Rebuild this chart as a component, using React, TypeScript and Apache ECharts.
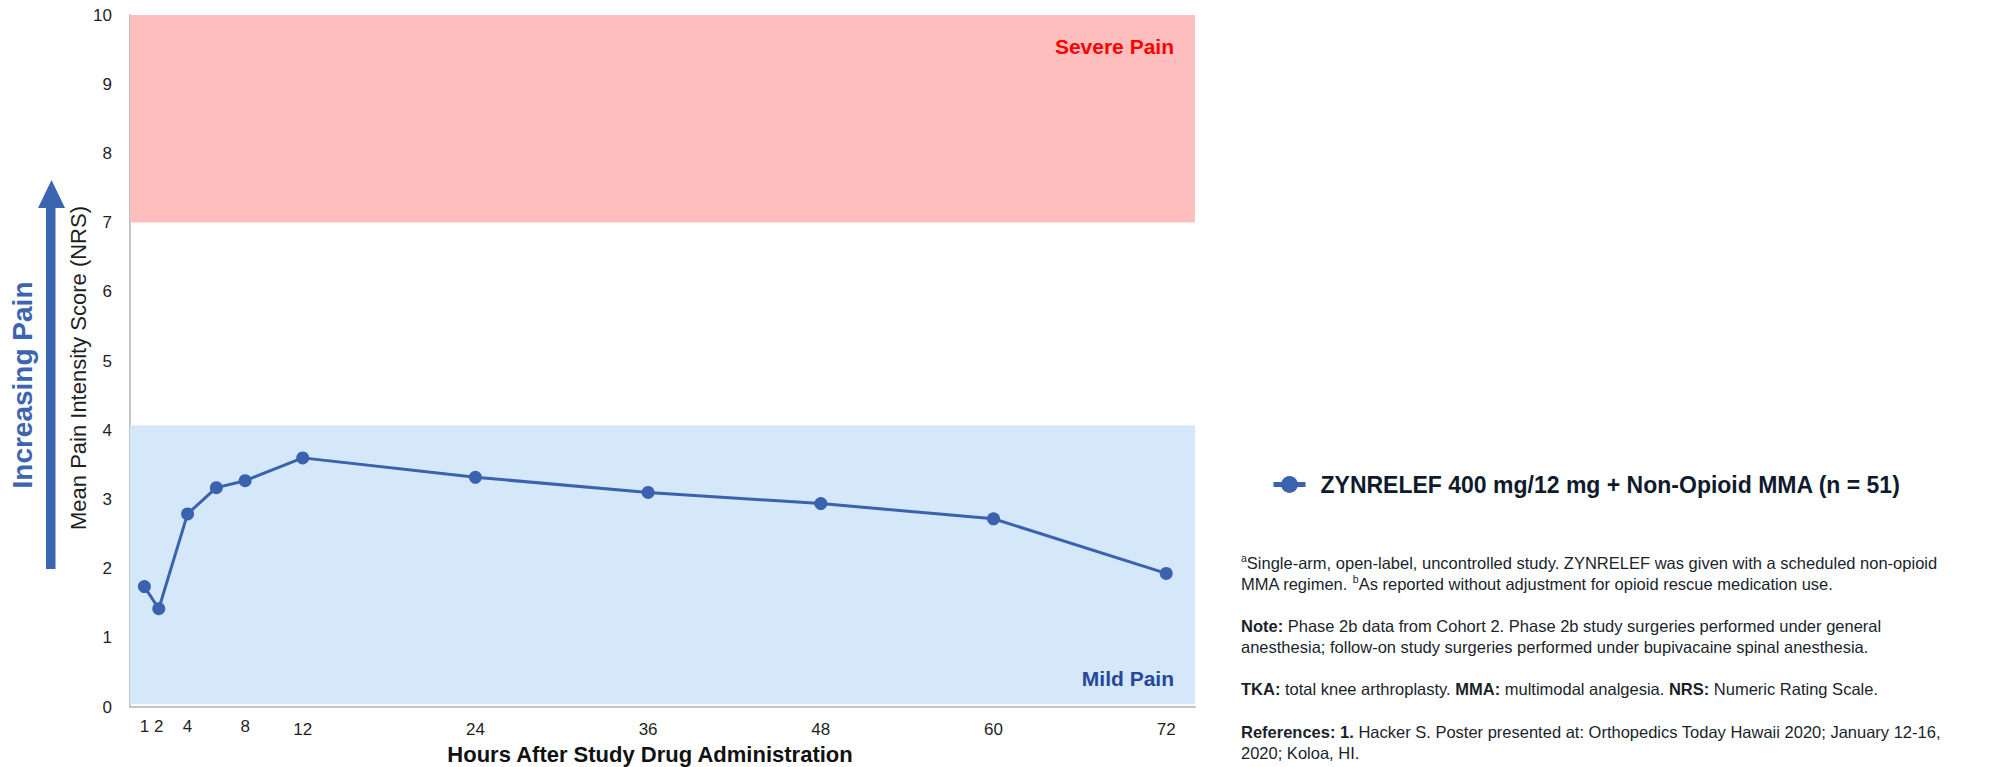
import React, { useEffect, useRef } from "react";
import * as echarts from "echarts";

const hours = [1, 2, 4, 6, 8, 12, 24, 36, 48, 60, 72];
const meanNrs = [1.74, 1.42, 2.79, 3.17, 3.27, 3.6, 3.32, 3.1, 2.94, 2.72, 1.93];
const xTickLabels = [1, 2, 4, 8, 12, 24, 36, 48, 60, 72];
const severeBand = [7, 10];
const mildBand = [0.04, 4.07];
const seriesName = "ZYNRELEF 400 mg/12 mg + Non-Opioid MMA (n = 51)";

const FONT = "'Liberation Sans', Arial, Helvetica, sans-serif";
const BLUE = "#3A62AE";
const TEXT = "#1A1F2B";

export default function App() {
  const ref = useRef<HTMLDivElement>(null);
  useEffect(() => {
    document.body.style.margin = "0";
    const chart = echarts.init(ref.current!, null, { renderer: "svg" });
    const data = hours.map((h, i) => [h, meanNrs[i]]);
    const footRich = {
      b: { fontFamily: FONT, fontSize: 16.5, fontWeight: "bold", fill: TEXT, lineHeight: 21 },
      sup: { fontFamily: FONT, fontSize: 10.5, fill: TEXT, lineHeight: 12, verticalAlign: "top" },
    };
    const footStyle = (text: string) => ({
      text,
      fontFamily: FONT,
      fontSize: 16.5,
      fill: TEXT,
      lineHeight: 21,
      rich: footRich,
    });
    chart.setOption({
      animation: false,
      textStyle: { fontFamily: FONT },
      grid: { left: 130, right: 816, top: 15, bottom: 60 },
      legend: {
        left: 1271,
        top: 473,
        padding: 0,
        itemWidth: 32,
        itemHeight: 21,
        lineStyle: { width: 5 },
        textStyle: {
          fontFamily: FONT,
          fontSize: 23,
          fontWeight: "bold",
          color: "#0F1B2D",
          padding: [0, 0, 0, 10],
        },
        data: [seriesName],
      },
      xAxis: {
        type: "value",
        min: 0,
        max: 74,
        interval: 1,
        axisLine: { show: true, lineStyle: { color: "#C4C4C4", width: 2 } },
        axisTick: { show: false },
        splitLine: { show: false },
        axisLabel: {
          margin: 11,
          formatter: (v: number) =>
            xTickLabels.includes(v) ? (v < 12 ? `{a|${v}}` : `{b|${v}}`) : "",
          rich: {
            a: { fontFamily: FONT, fontSize: 17, color: "#1F1F1F" },
            b: { fontFamily: FONT, fontSize: 17, color: "#1F1F1F", padding: [3, 0, 0, 0] },
          },
        },
      },
      yAxis: {
        type: "value",
        min: 0,
        max: 10,
        interval: 1,
        axisLine: { show: true, lineStyle: { color: "#C4C4C4", width: 2 } },
        axisTick: { show: false },
        splitLine: { show: false },
        axisLabel: { margin: 18, fontSize: 17, color: "#1F1F1F", fontFamily: FONT },
      },
      series: [
        {
          name: seriesName,
          type: "line",
          data,
          symbol: "circle",
          symbolSize: 13,
          lineStyle: { color: BLUE, width: 3 },
          itemStyle: { color: BLUE },
          z: 5,
          markArea: {
            silent: true,
            data: [
              [
                {
                  yAxis: severeBand[0],
                  itemStyle: { color: "#FFBEBE" },
                  label: {
                    show: true,
                    position: "insideTopRight",
                    distance: 0,
                    offset: [-21, 21],
                    formatter: "Severe Pain",
                    fontFamily: FONT,
                    fontSize: 21,
                    fontWeight: "bold",
                    color: "#FF0000",
                  },
                },
                { yAxis: severeBand[1] },
              ],
              [
                {
                  yAxis: mildBand[0],
                  itemStyle: { color: "#D5E8F9" },
                  label: {
                    show: true,
                    position: "insideBottomRight",
                    distance: 0,
                    offset: [-21, -15],
                    formatter: "Mild Pain",
                    fontFamily: FONT,
                    fontSize: 21,
                    fontWeight: "bold",
                    color: "#27479B",
                  },
                },
                { yAxis: mildBand[1] },
              ],
            ],
          },
        },
      ],
      graphic: [
        {
          type: "polygon",
          shape: {
            points: [
              [46, 569],
              [46, 208],
              [38, 208],
              [51.5, 180],
              [65, 208],
              [55.5, 208],
              [55.5, 569],
            ],
          },
          style: { fill: "#3B65B1" },
        },
        {
          type: "text",
          x: 22,
          y: 385,
          rotation: Math.PI / 2,
          style: {
            text: "Increasing Pain",
            fontFamily: FONT,
            fontSize: 28,
            fontWeight: "bold",
            fill: "#3B65B1",
            textAlign: "center",
            textVerticalAlign: "middle",
          },
        },
        {
          type: "text",
          x: 78,
          y: 368,
          rotation: Math.PI / 2,
          style: {
            text: "Mean Pain Intensity Score (NRS)",
            fontFamily: FONT,
            fontSize: 22,
            fill: "#1F1F1F",
            textAlign: "center",
            textVerticalAlign: "middle",
          },
        },
        {
          type: "text",
          x: 650,
          y: 754,
          style: {
            text: "Hours After Study Drug Administration",
            fontFamily: FONT,
            fontSize: 22,
            fontWeight: "bold",
            fill: "#111111",
            textAlign: "center",
            textVerticalAlign: "middle",
          },
        },
        {
          type: "text",
          x: 1241,
          y: 552,
          style: footStyle(
            "{sup|a}Single-arm, open-label, uncontrolled study. ZYNRELEF was given with a scheduled non-opioid\nMMA regimen. {sup|b}As reported without adjustment for opioid rescue medication use."
          ),
        },
        {
          type: "text",
          x: 1241,
          y: 615,
          style: footStyle(
            "{b|Note:} Phase 2b data from Cohort 2. Phase 2b study surgeries performed under general\nanesthesia; follow-on study surgeries performed under bupivacaine spinal anesthesia."
          ),
        },
        {
          type: "text",
          x: 1241,
          y: 678,
          style: footStyle(
            "{b|TKA:} total knee arthroplasty. {b|MMA:} multimodal analgesia. {b|NRS:} Numeric Rating Scale."
          ),
        },
        {
          type: "text",
          x: 1241,
          y: 721,
          style: footStyle(
            "{b|References: 1.} Hacker S. Poster presented at: Orthopedics Today Hawaii 2020; January 12-16,\n2020; Koloa, HI."
          ),
        },
      ],
    });
    return () => chart.dispose();
  }, []);
  return <div ref={ref} style={{ width: 2011, height: 767 }} />;
}
